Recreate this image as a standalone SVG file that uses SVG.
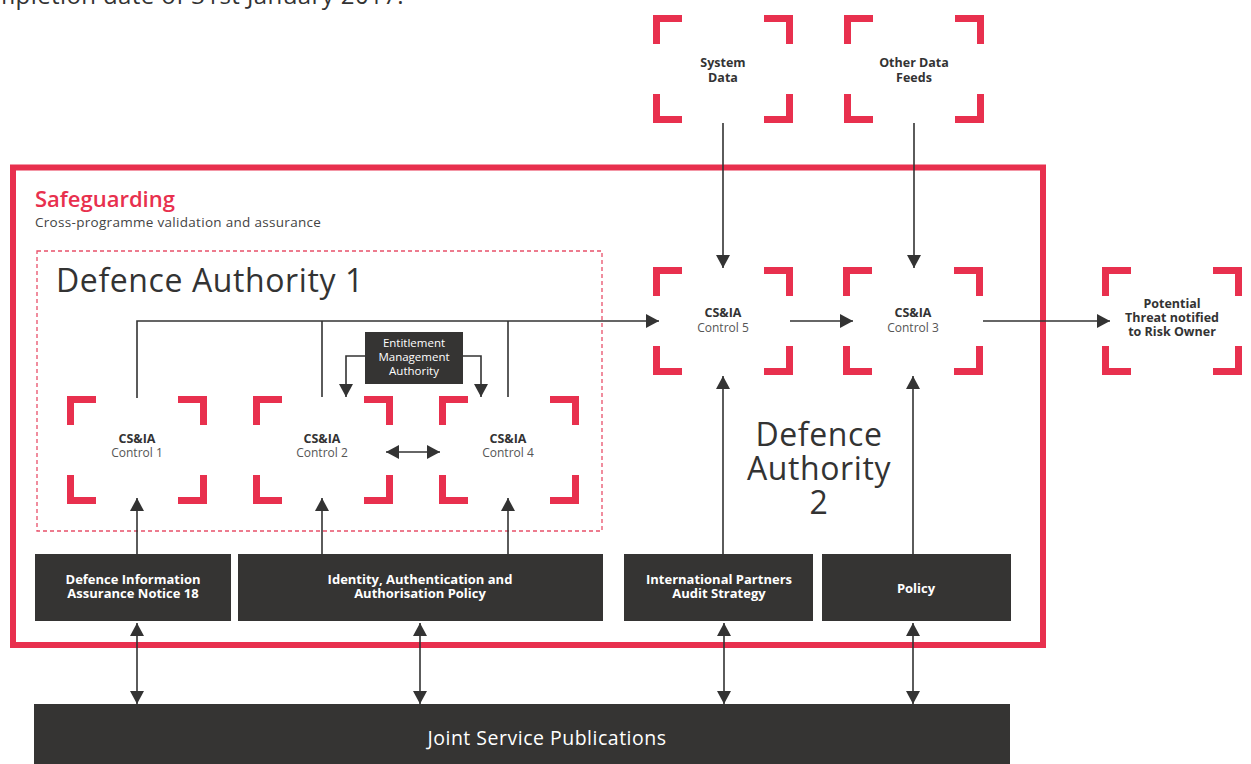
<svg xmlns="http://www.w3.org/2000/svg" xmlns:xlink="http://www.w3.org/1999/xlink" width="1251" height="764" viewBox="0 0 1251 764">
  <style>
    text { font-family: "Open Sans", "Liberation Sans", sans-serif; }
    .lbl { font-size: 12.5px; font-weight: 700; fill: #333; text-anchor: middle; }
    .sub { font-size: 12px; fill: #555; text-anchor: middle; }
    .box { fill: #353433; }
    .boxtxt { font-size: 13px; font-weight: 700; fill: #fff; text-anchor: middle; }
    .big { font-size: 32px; fill: #333; letter-spacing: 0.6px; }
    .frame { fill: none; stroke: #e8304e; stroke-width: 7; stroke-linejoin: miter; }
    .conn { fill: none; stroke: #333; stroke-width: 1.6; }
  </style>
  <defs>
    <marker id="arrow" viewBox="0 0 13 14" refX="13" refY="7" markerWidth="13" markerHeight="14" markerUnits="userSpaceOnUse" orient="auto-start-reverse">
      <path d="M0,0 L13,7 L0,14 Z" fill="#333"/>
    </marker>
    <!-- four red corner brackets around a 140x108 area -->
    <symbol id="corners" viewBox="0 0 140 108" width="140" height="108" overflow="visible">
      <path class="frame" d="M3.5,29 V3.5 H29"/>
      <path class="frame" d="M111,3.5 H136.5 V29"/>
      <path class="frame" d="M3.5,79 V104.5 H29"/>
      <path class="frame" d="M111,104.5 H136.5 V79"/>
    </symbol>
  </defs>

  <rect width="1251" height="764" fill="#fff"/>

  <!-- running text from the page above -->
  <text x="-7" y="4" font-size="24" fill="#333" letter-spacing="0.4">mpletion date of 31st January 2017.</text>

  <!-- Safeguarding container -->
  <g id="safeguarding">
    <rect x="13" y="167.5" width="1030" height="477.5" fill="none" stroke="#e8304e" stroke-width="6"/>
    <text x="35" y="207" font-size="22" font-weight="600" fill="#e8304e">Safeguarding</text>
    <text x="35" y="227" font-size="13.5" fill="#444" letter-spacing="0.3">Cross-programme validation and assurance</text>
  </g>

  <!-- Defence Authority 1 -->
  <g id="defence-authority-1">
    <rect x="37" y="251" width="565" height="280" fill="none" stroke="#e8506a" stroke-width="1.3" stroke-dasharray="4 3"/>
    <text class="big" x="56" y="292">Defence Authority 1</text>
  </g>

  <!-- Defence Authority 2 -->
  <g id="defence-authority-2">
    <text class="big" x="819" y="446" text-anchor="middle">Defence</text>
    <text class="big" x="819" y="480" text-anchor="middle">Authority</text>
    <text class="big" x="819" y="514" text-anchor="middle">2</text>
  </g>

  <!-- connectors -->
  <g id="connectors" class="conn">
    <path d="M137,398 V321 H659" marker-end="url(#arrow)"/>
    <path d="M322,397 V321"/>
    <path d="M508,397 V321"/>
    <path d="M365,356 H346 V397" marker-end="url(#arrow)"/>
    <path d="M463,356 H481 V397" marker-end="url(#arrow)"/>
    <path d="M386,452 H440" marker-start="url(#arrow)" marker-end="url(#arrow)"/>
    <path d="M790,321 H853" marker-end="url(#arrow)"/>
    <path d="M983,321 H1110" marker-end="url(#arrow)"/>
    <path d="M723,123 V268" marker-end="url(#arrow)"/>
    <path d="M914,123 V268" marker-end="url(#arrow)"/>
    <path d="M137,554 V498" marker-end="url(#arrow)"/>
    <path d="M322,554 V498" marker-end="url(#arrow)"/>
    <path d="M508,554 V498" marker-end="url(#arrow)"/>
    <path d="M723,554 V376" marker-end="url(#arrow)"/>
    <path d="M913,554 V376" marker-end="url(#arrow)"/>
    <path d="M137,623 V704" marker-start="url(#arrow)" marker-end="url(#arrow)"/>
    <path d="M420,623 V704" marker-start="url(#arrow)" marker-end="url(#arrow)"/>
    <path d="M724,623 V704" marker-start="url(#arrow)" marker-end="url(#arrow)"/>
    <path d="M913,623 V704" marker-start="url(#arrow)" marker-end="url(#arrow)"/>
  </g>

  <!-- bracketed nodes -->
  <g id="system-data">
    <use xlink:href="#corners" x="653" y="15"/>
    <text class="lbl" x="723" y="67">System</text>
    <text class="lbl" x="723" y="82">Data</text>
  </g>
  <g id="other-data-feeds">
    <use xlink:href="#corners" x="844" y="15"/>
    <text class="lbl" x="914" y="67">Other Data</text>
    <text class="lbl" x="914" y="82">Feeds</text>
  </g>
  <g id="control-5">
    <use xlink:href="#corners" x="653" y="267"/>
    <text class="lbl" x="723" y="317">CS&amp;IA</text>
    <text class="sub" x="723" y="332">Control 5</text>
  </g>
  <g id="control-3">
    <use xlink:href="#corners" x="843" y="267"/>
    <text class="lbl" x="913" y="317">CS&amp;IA</text>
    <text class="sub" x="913" y="332">Control 3</text>
  </g>
  <g id="risk-owner">
    <use xlink:href="#corners" x="1102" y="267"/>
    <text class="lbl" x="1172" y="308">Potential</text>
    <text class="lbl" x="1172" y="322">Threat notified</text>
    <text class="lbl" x="1172" y="336">to Risk Owner</text>
  </g>
  <g id="control-1">
    <use xlink:href="#corners" x="67" y="396"/>
    <text class="lbl" x="137" y="443">CS&amp;IA</text>
    <text class="sub" x="137" y="457">Control 1</text>
  </g>
  <g id="control-2">
    <use xlink:href="#corners" x="253" y="396"/>
    <text class="lbl" x="322" y="443">CS&amp;IA</text>
    <text class="sub" x="322" y="457">Control 2</text>
  </g>
  <g id="control-4">
    <use xlink:href="#corners" x="439" y="396"/>
    <text class="lbl" x="508" y="443">CS&amp;IA</text>
    <text class="sub" x="508" y="457">Control 4</text>
  </g>

  <!-- dark boxes -->
  <g id="entitlement">
    <rect class="box" x="365" y="332" width="98" height="52"/>
    <text x="414" y="347" font-size="11.5" fill="#fff" text-anchor="middle">Entitlement</text>
    <text x="414" y="361" font-size="11.5" fill="#fff" text-anchor="middle">Management</text>
    <text x="414" y="375" font-size="11.5" fill="#fff" text-anchor="middle">Authority</text>
  </g>
  <g id="dian18">
    <rect class="box" x="35" y="554" width="196" height="67"/>
    <text class="boxtxt" x="133" y="584">Defence Information</text>
    <text class="boxtxt" x="133" y="598">Assurance Notice 18</text>
  </g>
  <g id="iaa-policy">
    <rect class="box" x="238" y="554" width="365" height="67"/>
    <text class="boxtxt" x="420" y="584">Identity, Authentication and</text>
    <text class="boxtxt" x="420" y="598">Authorisation Policy</text>
  </g>
  <g id="ipas">
    <rect class="box" x="624" y="554" width="189" height="67"/>
    <text class="boxtxt" x="719" y="584">International Partners</text>
    <text class="boxtxt" x="719" y="598">Audit Strategy</text>
  </g>
  <g id="policy">
    <rect class="box" x="822" y="554" width="189" height="67"/>
    <text class="boxtxt" x="916" y="593">Policy</text>
  </g>
  <g id="jsp">
    <rect class="box" x="34" y="704" width="976" height="62"/>
    <text x="547" y="745" font-size="19.5" fill="#fff" text-anchor="middle" letter-spacing="0.5">Joint Service Publications</text>
  </g>
</svg>
